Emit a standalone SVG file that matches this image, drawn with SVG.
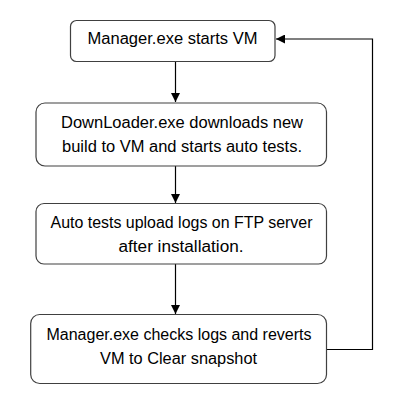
<svg xmlns="http://www.w3.org/2000/svg" width="417" height="405" viewBox="0 0 417 405">
<style>
.box{fill:#fff;stroke:#404040;stroke-width:1.2}
.t{font-family:"Liberation Sans",Arial,sans-serif;font-size:16px;fill:#000;text-anchor:middle}
.c{fill:none;stroke:#000;stroke-width:1.2}
</style>
<defs>
<marker id="ah" viewBox="0 0 10 10" refX="10" refY="5" markerWidth="9" markerHeight="9" markerUnits="userSpaceOnUse" orient="auto">
<path d="M0,0 L10,5 L0,10 Z" fill="#000"/>
</marker>
</defs>
<rect width="417" height="405" fill="#fff"/>
<g id="connectors">
<line class="c" x1="175.5" y1="61" x2="175.5" y2="102" marker-end="url(#ah)"/>
<line class="c" x1="175.5" y1="166" x2="175.5" y2="203" marker-end="url(#ah)"/>
<line class="c" x1="175.5" y1="264" x2="175.5" y2="314" marker-end="url(#ah)"/>
<polyline class="c" points="326.5,349.5 372.5,349.5 372.5,39 276,39" marker-end="url(#ah)"/>
</g>
<g id="n1">
<rect class="box" x="70.5" y="20.5" width="204.5" height="41" rx="6"/>
<text class="t" x="172.5" y="44.3" textLength="170" lengthAdjust="spacingAndGlyphs">Manager.exe starts VM</text>
</g>
<g id="n2">
<rect class="box" x="36" y="103" width="290.5" height="63" rx="9"/>
<text class="t" x="182" y="128.3" textLength="242" lengthAdjust="spacingAndGlyphs">DownLoader.exe downloads new</text>
<text class="t" x="182" y="151.7" textLength="240" lengthAdjust="spacingAndGlyphs">build to VM and starts auto tests.</text>
</g>
<g id="n3">
<rect class="box" x="36" y="203.5" width="290.5" height="60.5" rx="8"/>
<text class="t" x="181.5" y="228.3" textLength="262" lengthAdjust="spacingAndGlyphs">Auto tests upload logs on FTP server</text>
<text class="t" x="181" y="252.3" textLength="125" lengthAdjust="spacingAndGlyphs">after installation.</text>
</g>
<g id="n4">
<rect class="box" x="30.7" y="314.5" width="295.8" height="69" rx="9"/>
<text class="t" x="179" y="340" textLength="265" lengthAdjust="spacingAndGlyphs">Manager.exe checks logs and reverts</text>
<text class="t" x="178.5" y="364" textLength="157" lengthAdjust="spacingAndGlyphs">VM to Clear snapshot</text>
</g>
</svg>
